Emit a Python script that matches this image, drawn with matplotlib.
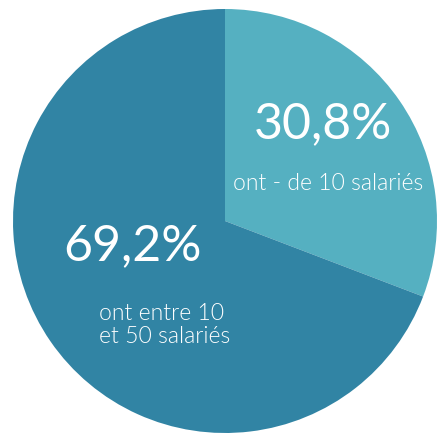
import matplotlib.pyplot as plt

# Data
shares = [30.8, 69.2]
pct_labels = ['30,8%', '69,2%']
desc_labels = ['ont - de 10 salariés', 'ont entre 10\net 50 salariés']
colors = ['#55b0c1', '#3184a4']

W, H = 446, 438
fig = plt.figure(figsize=(W / 100, H / 100), dpi=100)
ax = fig.add_axes([0, 0, 1, 1])

ax.pie(shares, colors=colors, startangle=90, counterclock=False,
       center=(225, H - 221), radius=212,
       wedgeprops=dict(linewidth=0))
ax.set_xlim(0, W)
ax.set_ylim(0, H)
ax.set_aspect('equal')
ax.axis('off')

font = ['Lato', 'DejaVu Sans']
# Small slice labels
ax.text(323, H - 124, pct_labels[0], color='white', fontsize=36,
        fontweight='normal', family=font, ha='center', va='center')
ax.text(328, H - 184, desc_labels[0], color='white', fontsize=16.5,
        fontweight=300, family=font, ha='center', va='center')
# Large slice labels
ax.text(133, H - 246, pct_labels[1], color='white', fontsize=36,
        fontweight='normal', family=font, ha='center', va='center')
ax.text(99, H - 325, desc_labels[1], color='white', fontsize=16.5,
        fontweight=300, family=font, ha='left', va='center',
        linespacing=1.1)

fig.savefig('out.png', dpi=100)
